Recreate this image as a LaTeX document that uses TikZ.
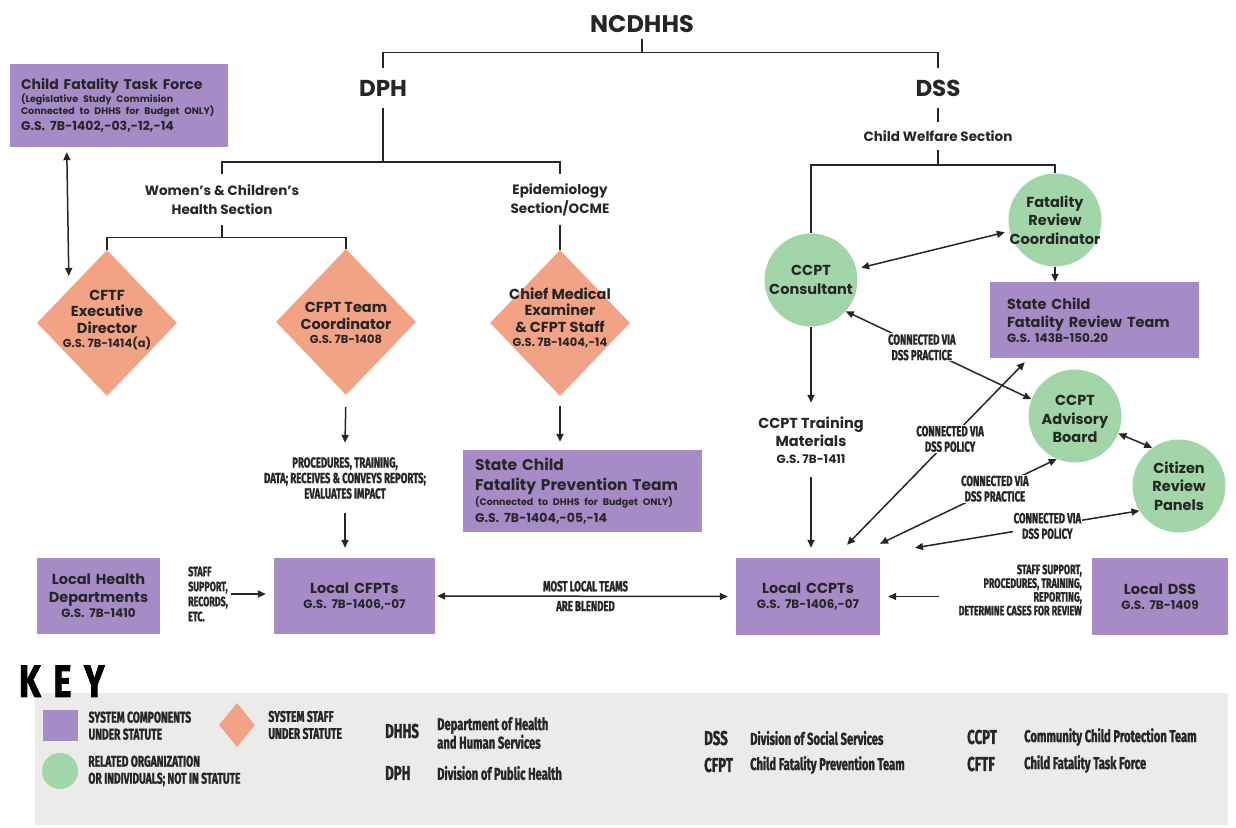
\documentclass[tikz,border=0pt]{standalone}
\usepackage{fontspec}
\setmainfont{Poppins}
\newfontfamily\condfont[FakeStretch=0.66, BoldFeatures={FakeBold=1.4}]{Fira Sans}
\newfontfamily\keyfont[FakeStretch=0.75, BoldFeatures={FakeBold=2}]{Fira Sans}
\usetikzlibrary{positioning,arrows.meta,shapes.geometric,calc}

\definecolor{orgpurple}{HTML}{A68BC7}
\definecolor{stafforange}{HTML}{F3A385}
\definecolor{relgreen}{HTML}{A2D5A7}
\definecolor{keygray}{HTML}{EBEBE9}
\definecolor{ink}{HTML}{262626}

\newcommand\fsz[2]{\fontsize{#1}{#2}\selectfont}
\newcommand\statref[1]{\par{\fsz{12}{15}#1\par}}

\tikzset{
  %--- connectors ---
  link/.style={draw=ink, line width=1.5pt},
  arr/.style={link, -{Triangle[length=8pt,width=7pt]}},
  darr/.style={link, {Triangle[length=8pt,width=7pt]}-{Triangle[length=8pt,width=7pt]}},
  %--- blocks ---
  org/.style={fill=orgpurple, inner sep=0pt, align=center, text=ink, font=\bfseries\fsz{14.5}{18}},
  orgl/.style={org, align=left},
  staff/.style={diamond, fill=stafforange, inner sep=0pt, minimum width=140pt, minimum height=146pt},
  rel/.style={circle, fill=relgreen, inner sep=0pt, minimum size=93pt},
  dtext/.style={align=center, inner sep=0pt, text=ink, font=\bfseries\fsz{14.5}{16.5}},
  ctext/.style={align=center, inner sep=0pt, text=ink, font=\bfseries\fsz{14.5}{18.5}},
  %--- texts ---
  head/.style={align=center, inner sep=0pt, text=ink, font=\bfseries\fsz{13.5}{19}},
  lbl/.style={align=center, inner sep=1pt, fill=white, text=ink, font=\condfont\bfseries\fsz{14.5}{15.5}},
  %--- key ---
  keytxt/.style={align=left, inner sep=0pt, text=ink, font=\condfont\bfseries\fsz{15.5}{17}},
  keyab/.style={anchor=west, inner sep=0pt, text=ink, font=\condfont\bfseries\fsz{20}{20}},
  keydesc/.style={anchor=west, align=left, inner sep=0pt, text=ink, font=\condfont\bfseries\fsz{17}{16.5}}
}

\begin{document}
\begin{tikzpicture}[x=1pt,y=-1pt]
\useasboundingbox (0,0) rectangle (1236,827);

%% ── HEADINGS ────────────────────────────────────────────────────────────
\node[head, font=\bfseries\fsz{24}{28}, minimum height=29pt] (ncdhhs) at (642,24) {NCDHHS};
\node[head, font=\bfseries\fsz{23}{27}, minimum height=40pt] (dph) at (383,88) {DPH};
\node[head, font=\bfseries\fsz{23}{27}, minimum height=40pt] (dss) at (938,88) {DSS};
\node[head, minimum height=28pt] (cws) at (938,136) {Child Welfare Section};
\node[head, minimum height=50pt] (wchs) at (222,199.5) {Women’s \& Children’s\\Health Section};
\node[head, minimum height=50pt] (epi) at (560,199.5) {Epidemiology\\Section/OCME};

%% ── DPH SIDE ────────────────────────────────────────────────────────────
\node[orgl, text width=196pt, inner xsep=11pt, minimum height=83pt] (cftf) at (119,105.5)
  {\fsz{14}{18}Child Fatality Task Force\par
   {\fsz{9.5}{12}(Legislative Study Commision\\Connected to DHHS for Budget ONLY)\par}
   {\fsz{12.5}{16}G.S. 7B-1402,-03,-12,-14\par}};

\node[staff] (cftfd) at (107,323) {};
\node[dtext] at ($(cftfd)+(0,-3)$) {CFTF\\Executive\\Director\\[-2pt]{\fsz{11.5}{13}G.S. 7B-1414(a)}};
\node[staff] (cfptd) at (346,322) {};
\node[dtext] at ($(cfptd)+(0,1)$) {CFPT Team\\Coordinator\\[-2pt]{\fsz{11.5}{13}G.S. 7B-1408}};
\node[staff] (cmed) at (560,323) {};
\node[dtext] at ($(cmed)+(0,-5)$) {Chief Medical\\Examiner\\\& CFPT Staff\\[-2pt]{\fsz{11.5}{13}G.S. 7B-1404,-14}};

\node[lbl, fill=none, minimum height=70pt] (proc) at (345,478)
  {PROCEDURES, TRAINING,\\DATA; RECEIVES \& CONVEYS REPORTS;\\EVALUATES IMPACT};

\node[orgl, text width=215pt, inner xsep=12pt, minimum height=82pt] (scfpt) at (582.5,491)
  {\fsz{15.5}{20}State Child\\Fatality Prevention Team\par
   {\fsz{9.5}{15}(Connected to DHHS for Budget ONLY)\par}
   {\fsz{12.5}{17}G.S. 7B-1404,-05,-14\par}};

\node[org, text width=123pt, minimum height=76pt] (lhd) at (98.5,596)
  {Local Health\\Departments\statref{G.S. 7B-1410}};
\node[org, text width=161pt, minimum height=76pt] (lcfpt) at (354.5,596)
  {Local CFPTs\statref{G.S. 7B-1406,-07}};
\node[lbl, fill=none, align=left, anchor=west, font=\condfont\bfseries\fsz{13.5}{15}] (lhdlbl) at (187,594)
  {STAFF\\SUPPORT,\\RECORDS,\\ETC.};

%% ── DSS SIDE ────────────────────────────────────────────────────────────
\node[rel] (cons) at (811,280) {};
\node[ctext] at (cons) {CCPT\\Consultant};
\node[rel] (frc) at (1055,220) {};
\node[ctext] at (frc) {Fatality\\Review\\Coordinator};
\node[orgl, text width=175pt, inner xsep=17pt, minimum height=76pt] (scfrt) at (1094.5,320)
  {State Child\\Fatality Review Team\statref{G.S. 143B-150.20}};
\node[rel] (adv) at (1075,416) {};
\node[ctext] at ($(adv)+(0,3)$) {CCPT\\Advisory\\Board};
\node[rel] (crp) at (1179,486) {};
\node[ctext] at (crp) {Citizen\\Review\\Panels};

\node[ctext, minimum height=74pt] (ctm) at (811,440)
  {CCPT Training\\Materials\\[-2pt]{\fsz{12}{15}G.S. 7B-1411}};

\node[org, text width=144pt, minimum height=77pt] (lccpt) at (808,596.5)
  {Local CCPTs\statref{G.S. 7B-1406,-07}};
\node[org, text width=136pt, minimum height=77pt] (ldss) at (1160,596.5)
  {Local DSS\statref{G.S. 7B-1409}};
\node[lbl, fill=none, align=right, anchor=east, font=\condfont\bfseries\fsz{13.5}{13.7}] (ldsslbl) at (1083,590)
  {STAFF SUPPORT,\\PROCEDURES, TRAINING,\\REPORTING,\\DETERMINE CASES FOR REVIEW};

%% ── TREE LINES ──────────────────────────────────────────────────────────
\coordinate (tj) at ($(ncdhhs.south)+(0,14)$);
\draw[link] (ncdhhs.south) -- (tj);
\draw[link] (dph.north) |- (tj) -| (dss.north);
\coordinate (dj) at ($(dph.south)+(0,54)$);
\draw[link] (dph.south) -- (dj);
\draw[link] (wchs.north) |- (dj) -| (epi.north);
\coordinate (wj) at ($(wchs.south)+(0,13)$);
\draw[link] (wchs.south) -- (wj);
\draw[link] (cftfd.north) |- (wj) -| (cfptd.north);
\draw[link] (epi.south) -- (cmed.north);
\draw[link] (dss.south) -- (cws.north);
\coordinate (sj) at ($(cws.south)+(0,15)$);
\draw[link] (cws.south) -- (sj);
\draw[link] (cons.north) |- (sj) -| (frc.north);

%% ── ARROWS: DPH side ────────────────────────────────────────────────────
\draw[darr] ($(cftf.south west)+(57,5)$) -- ($(cftfd.west)+(32,-47)$);
\draw[arr, shorten <=12pt] (cfptd.south) -- (proc.north);
\draw[arr, shorten >=10pt] (proc.south) -- (proc.south |- lcfpt.north);
\draw[arr, shorten <=10pt, shorten >=8pt] (cmed.south) -- (cmed.south |- scfpt.north);
\draw[arr, shorten <=2pt, shorten >=8pt] (lhdlbl.east) -- (lhdlbl.east -| lcfpt.west);
\draw[darr, shorten <=2pt, shorten >=8pt] (lcfpt.east) -- node[lbl, fill=none, above=3pt]{MOST LOCAL TEAMS}
  node[lbl, fill=none, below=3pt]{ARE BLENDED} (lccpt.west);

%% ── ARROWS: DSS side ────────────────────────────────────────────────────
\draw[darr, shorten <=5pt, shorten >=5pt] (cons) -- (frc);
\draw[arr] (frc.south) -- (frc.south |- scfrt.north);
\draw[arr] (cons.south) -- (ctm.north);
\draw[arr, shorten >=10pt] (ctm.south) -- (ctm.south |- lccpt.north);
\draw[arr, shorten <=18pt, shorten >=8pt] (ldsslbl.west |- lccpt.east) -- (lccpt.east);
\draw[darr] (adv.-22) -- (crp.125);

\coordinate (ccA) at ($(lccpt.north)+(39,-13)$);
\coordinate (ccB) at ($(lccpt.north)+(72,-14)$);
\coordinate (ccC) at ($(lccpt.north)+(107,-10)$);
\draw[darr] (cons.-42) -- node[lbl, pos=0.41]{CONNECTED VIA\\DSS PRACTICE} (adv.159);
\draw[darr] (ccA) -- node[lbl, pos=0.58]{CONNECTED VIA\\DSS POLICY} ($(scfrt.south west)+(35,4)$);
\draw[darr] (ccB) -- node[lbl, pos=0.65]{CONNECTED VIA\\DSS PRACTICE} (adv.-113);
\draw[darr] (ccC) -- node[lbl, pos=0.59]{CONNECTED VIA\\DSS POLICY} (crp.-148);

%% ── KEY ─────────────────────────────────────────────────────────────────
\node[fill=keygray, minimum width=1193pt, minimum height=132pt, inner sep=0pt, anchor=north west] (keybg) at (35,693) {};
\node[anchor=south west, inner sep=0pt, text=black, font=\keyfont\bfseries\fsz{45}{45}] (keyt) at (19,697)
  {K\hspace{13pt}E\hspace{13pt}Y};

\node[fill=orgpurple, minimum width=35pt, minimum height=31pt, inner sep=0pt, anchor=north west] (k1) at (43,710) {};
\node[keytxt, right=10pt of k1] {SYSTEM COMPONENTS\\UNDER STATUTE};
\node[circle, fill=relgreen, minimum size=36pt, inner sep=0pt] (k2) at (60,771) {};
\node[keytxt, right=10pt of k2] {RELATED ORGANIZATION\\OR INDIVIDUALS; NOT IN STATUTE};
\node[diamond, fill=stafforange, minimum width=36pt, minimum height=44pt, inner sep=0pt] (k3) at (237,725) {};
\node[keytxt, right=13pt of k3] {SYSTEM STAFF\\UNDER STATUTE};

\node[keyab] (kdhhs) at (385,731) {DHHS};
\node[keydesc] at (437,733) {Department of Health\\and Human Services};
\node[keyab] (kdph) at (385,773) {DPH};
\node[keydesc] at (437,773) {Division of Public Health};
\node[keyab] (kdss) at (704,738) {DSS};
\node[keydesc] at (750,738) {Division of Social Services};
\node[keyab] (kcfpt) at (704,765) {CFPT};
\node[keydesc] at (750,765) {Child Fatality Prevention Team};
\node[keyab] (kccpt) at (967,737) {CCPT};
\node[keydesc] at (1024,737) {Community Child Protection Team};
\node[keyab] (kcftf) at (967,764) {CFTF};
\node[keydesc] at (1024,764) {Child Fatality Task Force};
\end{tikzpicture}
\end{document}
